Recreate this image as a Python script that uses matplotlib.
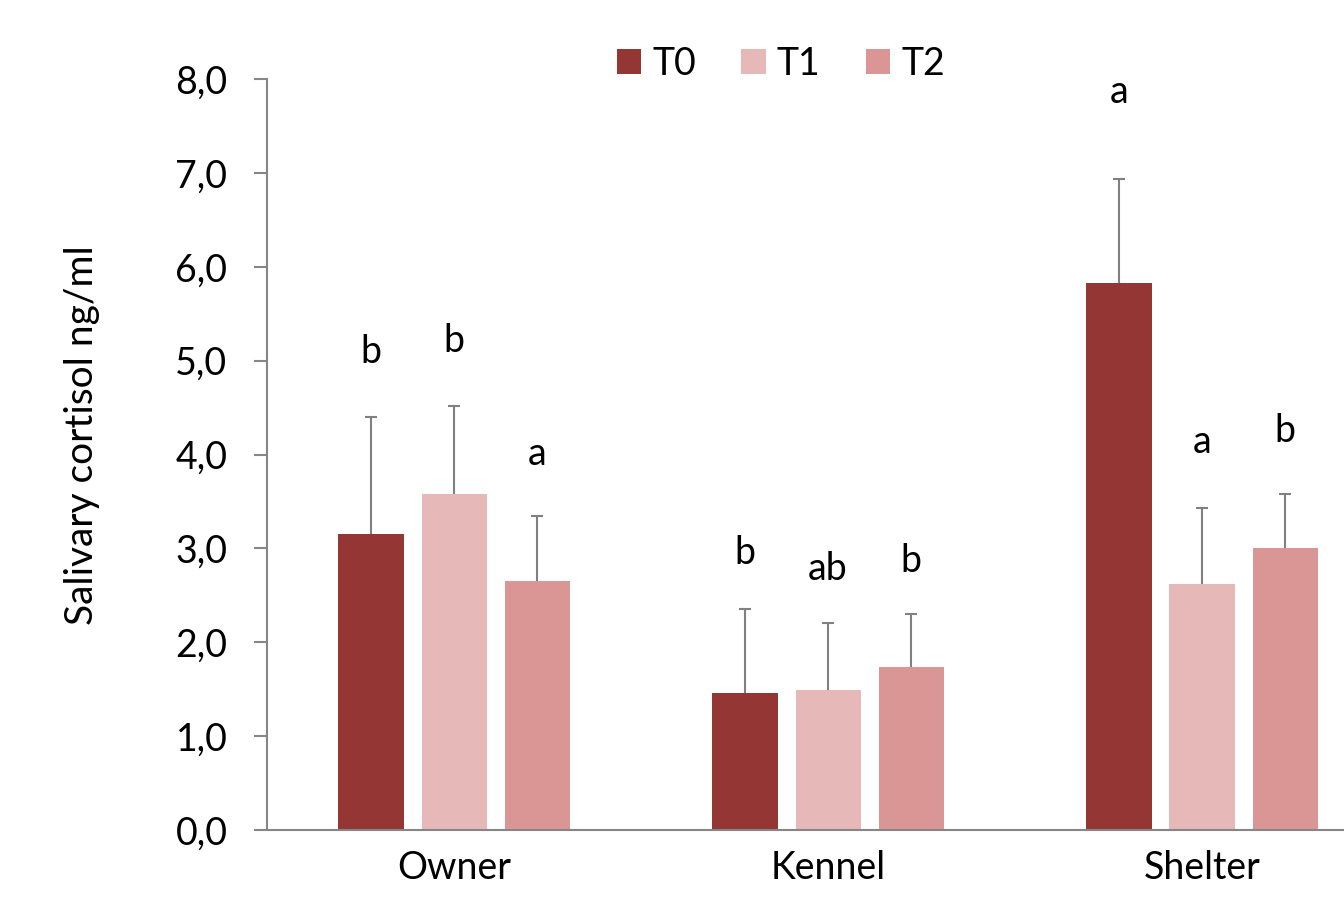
import matplotlib.pyplot as plt
import numpy as np

plt.rcParams['font.family'] = ['Lato', 'DejaVu Sans']

groups = ['Owner', 'Kennel', 'Shelter']
series = ['T0', 'T1', 'T2']
colors = ['#943634', '#E6B9B8', '#D99694']

# mean salivary cortisol (ng/ml) per group, one list per time point
t0_mean = [3.15, 1.46, 5.83]
t1_mean = [3.58, 1.49, 2.62]
t2_mean = [2.65, 1.74, 3.00]

# standard deviations (upper whisker only)
t0_sd = [1.25, 0.89, 1.10]
t1_sd = [0.94, 0.71, 0.81]
t2_sd = [0.69, 0.56, 0.58]

# significance letters above each bar
t0_letters = ['b', 'b', 'a']
t1_letters = ['b', 'ab', 'a']
t2_letters = ['a', 'b', 'b']

# letter baselines (ng/ml)
t0_letter_y = [4.97, 2.83, 7.74]
t1_letter_y = [5.09, 2.66, 4.02]
t2_letter_y = [3.89, 2.75, 4.13]

means = [t0_mean, t1_mean, t2_mean]
sds = [t0_sd, t1_sd, t2_sd]
letters = [t0_letters, t1_letters, t2_letters]
letter_y = [t0_letter_y, t1_letter_y, t2_letter_y]

fig = plt.figure(figsize=(13.44, 9.02), dpi=100)
ax = fig.add_axes([0.1987, 0.0798, 0.8348, 0.8326])

x = np.arange(len(groups))
width = 0.174
step = 0.222
fs = 27
grey = '#868686'

for i in range(3):
    xs = x + (i - 1) * step
    ax.bar(xs, means[i], width, color=colors[i], label=series[i], zorder=2)
    eb = ax.errorbar(xs, means[i], yerr=[np.zeros(3), sds[i]], fmt='none',
                     ecolor='#808080', elinewidth=1.5, capsize=4.3, capthick=1.5, zorder=3)
    # only the upper whisker gets a cap
    eb.lines[1][0].set_visible(False)
    for xi, lab, ly in zip(xs, letters[i], letter_y[i]):
        ax.text(xi, ly, lab, ha='center', va='baseline', fontsize=fs)

ax.set_xlim(-0.5, 2.5)
ax.set_ylim(0, 8)
ax.set_yticks(np.arange(0, 9, 1))
ax.set_yticklabels([f'{v:.1f}'.replace('.', ',') for v in np.arange(0, 9, 1)])
ax.set_xticks(x)
ax.set_xticklabels(groups)

for side in ['top', 'right']:
    ax.spines[side].set_visible(False)
for side in ['left', 'bottom']:
    ax.spines[side].set_color(grey)
    ax.spines[side].set_linewidth(1.5)

ax.tick_params(axis='y', length=9.5, width=1.5, color=grey, pad=19, labelsize=fs)
ax.tick_params(axis='x', length=0, pad=14.5, labelsize=fs)

ax.set_ylabel('Salivary cortisol ng/ml', fontsize=28)
ax.yaxis.set_label_coords(-0.149, 0.526)

ax.legend(loc='center', bbox_to_anchor=(0.458, 1.02), ncol=3, frameon=False,
          fontsize=fs, handlelength=0.65, handleheight=0.65, handletextpad=0.3,
          columnspacing=1.2, borderpad=0)

fig.savefig('out.png', dpi=100)
